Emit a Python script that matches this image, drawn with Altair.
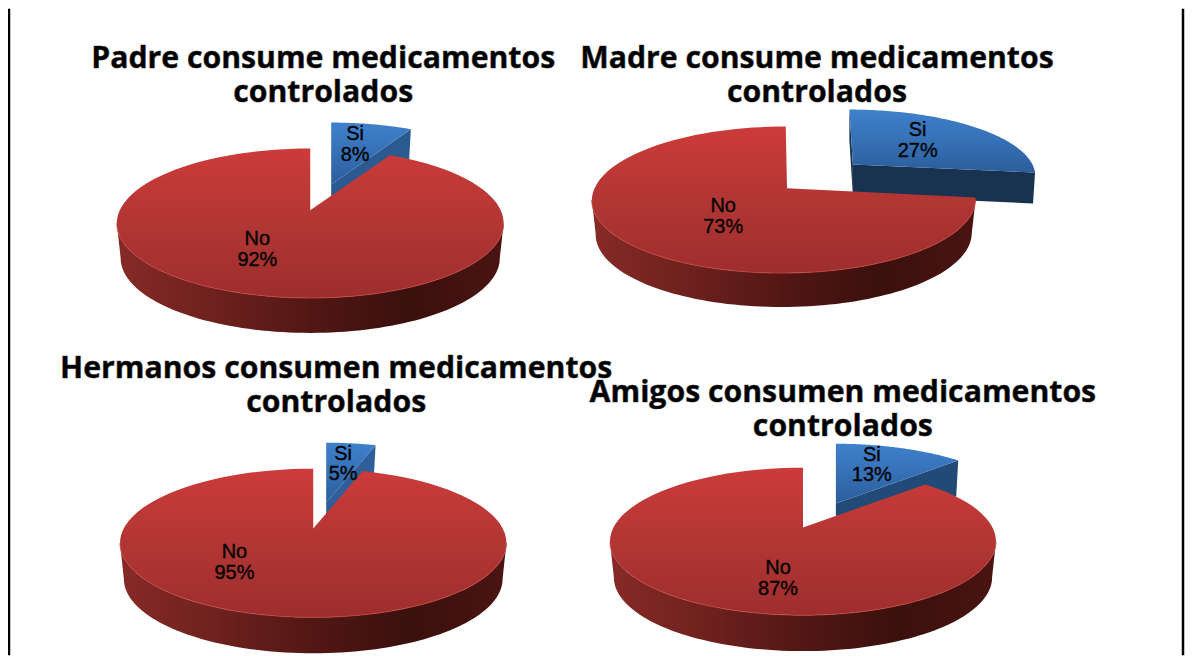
import math
import altair as alt

# ---- values ----
titles = ["Padre consume medicamentos\ncontrolados", "Madre consume medicamentos\ncontrolados",
          "Hermanos consumen medicamentos\ncontrolados", "Amigos consumen medicamentos\ncontrolados"]
si_values = [8, 27, 5, 13]
no_values = [92, 73, 95, 87]
categories = ["Si", "No"]

# ---- layout (page pixels) ----
OFF = 8
title_pos = [(324, 67), (819, 67), (337, 378), (845, 402)]
title_gap = 34
no_geo = [dict(x=311, y=210, rx=191, ry=72.7, k=.173, depth=35, skew=0, ax=0),
          dict(x=786, y=188, rx=190, ry=71.7, k=.156, depth=34, skew=2, ax=3),
          dict(x=314, y=529, rx=190, ry=71.7, k=.195, depth=36, skew=0, ax=0),
          dict(x=805, y=528, rx=190, ry=71.3, k=.189, depth=36, skew=0, ax=0)]
si_geo = [dict(x=332, y=184, rx=191, ry=72.7, k=.173, depth=35, skew=0, ax=0),
          dict(x=855, y=164, rx=180, ry=63.6, k=.156, depth=31, skew=-4, ax=0),
          dict(x=327, y=503, rx=190, ry=71.7, k=.195, depth=36, skew=0, ax=0),
          dict(x=838, y=504, rx=190, ry=71.3, k=.189, depth=36, skew=0, ax=0)]
si_edge = ["#2a5a90", "#19324f", "#2e5f9a", "#224a76"]
no_label = [(258, 245), (725, 212), (235, 559), (780, 575)]
si_label = [(356, 140), (920, 136), (344, 460), (874, 461)]


def pt(g, deg, extra=1.0, dy=0.0):
    t = math.radians(deg)
    u, v = math.sin(t), math.cos(t)
    w = 1 / (1 + g["k"] * v)
    return [g["x"] + (g["rx"] * u * extra + g["skew"] * v) * w - OFF,
            g["y"] - g["ry"] * v * w + dy - OFF]


def apex_of(g):
    return [g["x"] + g["ax"] - OFF, g["y"] - OFF]


def steps(a, b, n=90):
    return [a + (b - a) * i / n for i in range(n + 1)]


def feat(kind, coords):
    return {"type": "Feature", "properties": {}, "geometry": {"type": kind, "coordinates": coords}}


def grad(stops, horizontal=False):
    n = len(stops) - 1
    return alt.LinearGradient(gradient="linear",
                              x1=0, y1=0, x2=1 if horizontal else 0, y2=0 if horizontal else 1,
                              stops=[alt.GradientStop(offset=i / n, color=c) for i, c in enumerate(stops)])


def shape(f, fill):
    return alt.Chart(alt.Data(values=[f])).mark_geoshape(filled=True, fill=fill, strokeWidth=0).project(
        type="identity", scale=1, translate=[0, 0])


def rim(f, color, width):
    return alt.Chart(alt.Data(values=[f])).mark_geoshape(filled=False, stroke=color, strokeWidth=width,
                                                         strokeOpacity=.8).project(
        type="identity", scale=1, translate=[0, 0])


def wedge_top(g, a, b):
    apex = apex_of(g)
    ring = [apex] + [pt(g, d) for d in steps(a, b)] + [apex]
    return feat("Polygon", [ring])


layers = []
RED_TOP = ["#cc3b39", "#b23634", "#9d2e2d"]
RED_SIDE = ["#862a27", "#6e211e", "#521714", "#3a100d", "#4a1411"]
BLUE_TOP = ["#3f81cd", "#3670b5", "#2b5e9c"]

for i in range(4):
    s_end = si_values[i] / (si_values[i] + no_values[i]) * 360
    # Si slice
    g = si_geo[i]
    apex = apex_of(g)
    corner = pt(g, s_end)
    far = pt(g, 0)
    d = g["depth"]
    layers.append(shape(feat("Polygon", [[apex, far, [far[0], far[1] + d], [apex[0], apex[1] + d], apex]]), si_edge[i]))
    layers.append(shape(feat("Polygon", [[apex, corner, [corner[0] - 2, corner[1] + d],
                                          [apex[0], apex[1] + d], apex]]), si_edge[i]))
    layers.append(shape(wedge_top(g, 0, s_end), grad(BLUE_TOP)))
    # No slice
    g = no_geo[i]
    d = g["depth"]
    e = math.degrees(math.acos(-g["k"]))
    a, b = max(s_end, e), 360 - e
    top_arc = [pt(g, t) for t in steps(a, b)]
    bottom_arc = [pt(g, t, extra=.98, dy=d) for t in steps(b, a)]
    layers.append(shape(feat("Polygon", [top_arc + bottom_arc + [top_arc[0]]]), grad(RED_SIDE, True)))
    layers.append(shape(wedge_top(g, s_end, 360), grad(RED_TOP)))
    layers.append(rim(feat("LineString", top_arc), "#c8443f", 1))

# labels
rows = []
for i in range(4):
    rows.append({"t": f"{categories[0]}\n{si_values[i]}%", "x": si_label[i][0] - OFF, "y": si_label[i][1] - OFF})
    rows.append({"t": f"{categories[1]}\n{no_values[i]}%", "x": no_label[i][0] - OFF, "y": no_label[i][1] - OFF})
labels = alt.Chart(alt.Data(values=rows)).mark_text(
    font="Liberation Sans", fontSize=20, color="#050505", lineBreak="\n", lineHeight=20.5,
    align="center", baseline="alphabetic", stroke="#050505", strokeWidth=.4
).encode(x=alt.X("x:Q", scale=None, axis=None), y=alt.Y("y:Q", scale=None, axis=None), text="t:N")

trows = [{"t": titles[i], "x": title_pos[i][0] - OFF, "y": title_pos[i][1] - OFF} for i in range(4)]

title_text = alt.Chart(alt.Data(values=trows)).mark_text(
    font="Open Sans", fontWeight="bold", fontSize=30.3, color="#000000", stroke="#333333", strokeWidth=.5,
    lineBreak="\n", lineHeight=title_gap, align="center", baseline="alphabetic"
).encode(x=alt.X("x:Q", scale=None, axis=None), y=alt.Y("y:Q", scale=None, axis=None), text="t:N")

# frame (left and right rules)
frame_rows = [{"x": 1, "y": 0, "y2": 648}, {"x": 1178, "y": 0, "y2": 648}]
frame = alt.Chart(alt.Data(values=frame_rows)).mark_rule(color="black", strokeWidth=2.5).encode(
    x=alt.X("x:Q", scale=None, axis=None), y=alt.Y("y:Q", scale=None, axis=None), y2="y2:Q")

chart = alt.layer(
    frame, *layers, labels, title_text
).properties(width=1180, height=648, background="white", padding=0,
             autosize=alt.AutoSizeParams(type="none")).configure_view(stroke=None)

chart.save("out.html", embed_options={"renderer": "svg", "actions": False})
